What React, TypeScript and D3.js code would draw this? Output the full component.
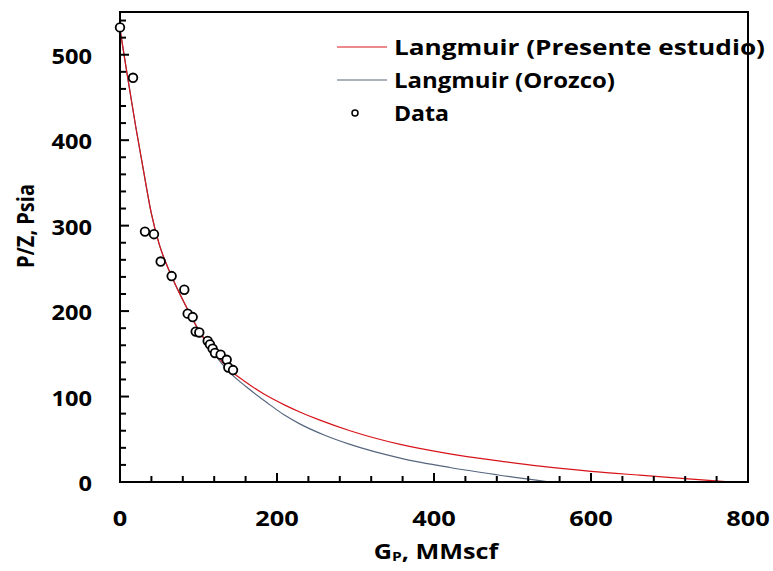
import React from "react";
import * as d3 from "d3";

const dataGp = [0, 16.6, 31.8, 43.3, 51.8, 65.8, 81.9, 86.2, 92.6, 96.4, 101, 111.7, 114.6, 118, 121, 128.2, 135.9, 138, 144];
const dataPz = [532, 473, 293, 290, 258, 241, 225, 197, 193, 176, 175, 165, 161, 156, 151, 149, 143, 134, 131];

const redGp = [0, 10, 20, 30, 40, 50, 60, 70, 85, 100, 120, 140, 160, 185, 210, 229, 253, 293, 357, 420, 480, 535, 600, 662, 720, 777];
const redPz = [530, 472, 416, 364, 314, 278, 253, 232, 204, 178, 152, 131, 117, 102, 90, 82, 73, 60, 44, 33, 25, 18.5, 12.5, 8, 4, 0];

const blueGp = [0, 10, 20, 30, 40, 50, 60, 70, 85, 100, 120, 140, 160, 187, 210, 229, 260, 293, 357, 420, 480, 548];
const bluePz = [530, 472, 416, 364, 314, 278, 253, 232, 204, 178, 150, 128, 112, 93, 78, 68, 55, 44, 28, 17, 8.5, 0];

const xTicks = [0, 200, 400, 600, 800];
const yTicks = [0, 100, 200, 300, 400, 500];

const legendLabels = ["Langmuir (Presente estudio)", "Langmuir (Orozco)", "Data"];
const legendWidths = [371, 221, 55];

const W = 773, H = 571;
const L = 120, R = 748, T = 12, B = 482;
const FONT = "'Open Sans', 'DejaVu Sans', sans-serif";
const RED = "#d7141a";
const BLUE = "#56667f";

export default function App() {
  const x = d3.scaleLinear().domain([0, 800]).range([L, R]);
  const y = d3.scaleLinear().domain([0, 550]).range([B, T]);

  const line = d3.line<[number, number]>()
    .x(d => x(d[0]))
    .y(d => y(d[1]))
    .curve(d3.curveMonotoneX);

  const redPts: [number, number][] = redGp.map((g, i) => [g, redPz[i]]);
  const bluePts: [number, number][] = blueGp.map((g, i) => [g, bluePz[i]]);

  const xMinor = d3.range(0, 801, 40);
  const yMinor = d3.range(0, 551, 20);

  return (
    <svg width={W} height={H} style={{ position: "absolute", left: 0, top: 0, background: "#fff" }}>
      <rect x={0} y={0} width={W} height={H} fill="#fff" />
      <path d={line(bluePts) || ""} fill="none" stroke={BLUE} strokeWidth={1.2} />
      <path d={line(redPts) || ""} fill="none" stroke={RED} strokeWidth={1.2} />
      {xMinor.map(v => (
        <line key={"xt" + v} x1={x(v)} x2={x(v)} y1={B} y2={B - (v % 200 === 0 ? 9 : 6)} stroke="#000" strokeWidth={2} />
      ))}
      {yMinor.map(v => (
        <line key={"yt" + v} x1={L} x2={L + (v % 100 === 0 ? 9 : 6)} y1={y(v)} y2={y(v)} stroke="#000" strokeWidth={2} />
      ))}
      <rect x={L} y={T} width={R - L} height={B - T} fill="none" stroke="#000" strokeWidth={2} />
      {dataGp.map((g, i) => (
        <circle key={"d" + i} cx={x(g)} cy={y(dataPz[i])} r={4.3} fill="#fff" stroke="#000" strokeWidth={1.8} />
      ))}
      {xTicks.map(v => (
        <text key={"xl" + v} x={x(v)} y={517} textAnchor="middle" dominantBaseline="central"
          fontFamily={FONT} fontWeight="bold" fontSize={22} fill="#000"
          textLength={String(v).length * 14.5} lengthAdjust="spacingAndGlyphs">{v}</text>
      ))}
      {yTicks.map(v => (
        <text key={"yl" + v} x={92} y={y(v)} textAnchor="end" dominantBaseline="central"
          fontFamily={FONT} fontWeight="bold" fontSize={22} fill="#000"
          textLength={String(v).length * 13.5} lengthAdjust="spacingAndGlyphs">{v}</text>
      ))}
      <g transform="translate(436,551) scale(1.2,1)">
        <text x={0} y={0} textAnchor="middle" dominantBaseline="central" fontFamily={FONT} fontWeight="bold" fontSize={21} fill="#000">
          G<tspan fontSize={13} dy={5}>P</tspan><tspan dy={-5}>, MMscf</tspan>
        </text>
      </g>
      <text transform="translate(24,226) scale(1.2,1) rotate(-90)" textAnchor="middle" dominantBaseline="central"
        fontFamily={FONT} fontWeight="bold" fontSize={20} fill="#000">P/Z, Psia</text>
      <line x1={337} x2={387} y1={47} y2={47} stroke={RED} strokeWidth={1.2} />
      <line x1={337} x2={387} y1={80} y2={80} stroke={BLUE} strokeWidth={1.2} />
      <circle cx={355} cy={113} r={3} fill="#fff" stroke="#000" strokeWidth={1.5} />
      {legendLabels.map((t, i) => (
        <text key={"lg" + i} x={394} y={47 + i * 33} dominantBaseline="central"
          fontFamily={FONT} fontWeight="bold" fontSize={21} fill="#000"
          textLength={legendWidths[i]} lengthAdjust="spacingAndGlyphs">{t}</text>
      ))}
    </svg>
  );
}
